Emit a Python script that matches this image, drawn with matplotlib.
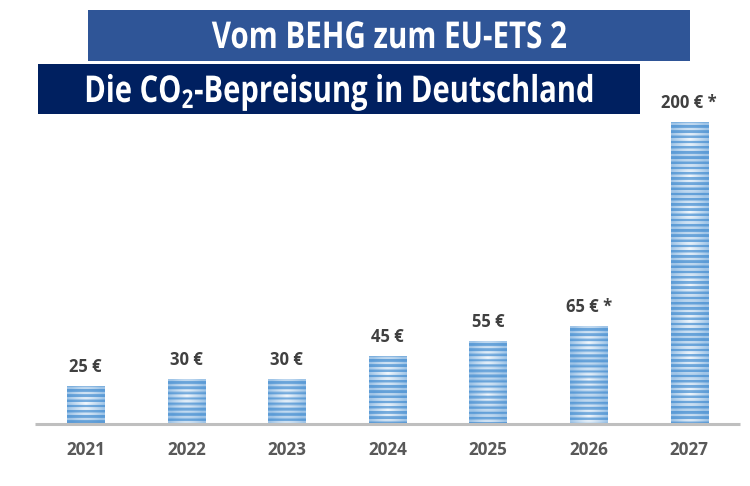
#!/usr/bin/env python
# -*- coding: utf-8 -*-

import numpy as np
import matplotlib
matplotlib.use("Agg")
import matplotlib.pyplot as plt
from matplotlib.patches import Rectangle
from matplotlib.patheffects import AbstractPathEffect
from matplotlib.transforms import Affine2D

# Values
years = ["2021", "2022", "2023", "2024", "2025", "2026", "2027"]
prices = [25, 30, 30, 45, 55, 65, 200]
price_labels = ["25 €", "30 €", "30 €", "45 €", "55 €", "65 € *", "200 € *"]
title_top = "Vom BEHG zum EU-ETS 2"
title_bottom = r"Die CO$_{\mathbf{2}}$-Bepreisung in Deutschland"

W, H = 750.0, 486.0
FONT = "Open Sans"

plt.rcParams["mathtext.fontset"] = "custom"
plt.rcParams["mathtext.bf"] = "Open Sans:bold"
plt.rcParams["mathtext.rm"] = "Open Sans:bold"


class Squeeze(AbstractPathEffect):
    # No condensed font is installed, so narrow the glyphs around a pixel x position
    def __init__(self, center, factor):
        super().__init__()
        self.center = center
        self.factor = factor

    def draw_path(self, renderer, gc, tpath, affine, rgbFace=None):
        squeeze = Affine2D().translate(-self.center, 0).scale(self.factor, 1).translate(self.center, 0)
        renderer.draw_path(gc, tpath, affine + squeeze, rgbFace)


def fig_box(x0, y0, x1, y1):
    # pixel box measured from the top left corner -> figure fraction
    return x0 / W, 1 - y1 / H, (x1 - x0) / W, (y1 - y0) / H


def bar_texture(rows, cols=38, tile=36, period=5.2):
    # Blue and pale bands, with a soft glow repeating up the bar
    y = np.arange(rows)
    bands = np.clip(0.5 + 1.6 * np.sin(2 * np.pi * y / period), 0, 1)
    yy = ((y % tile) + 0.5) / tile * 2 - 1
    xx = np.linspace(-1, 1, cols)
    glow = 1 - np.clip(np.sqrt(xx[None, :] ** 2 + 0.5 * yy[:, None] ** 2), 0, 1)
    amount = bands[:, None] * (0.45 + 0.55 * glow) + (1 - bands[:, None]) * 0.2 * glow
    blue = np.array([0.36, 0.61, 0.84])
    white = np.array([0.95, 0.97, 0.99])
    return blue + (white - blue) * amount[..., None]


fig = plt.figure(figsize=(7.5, 4.86), dpi=100, facecolor="white")
ax = fig.add_axes(fig_box(35.5, 122, 739.5, 424))

bars = ax.bar(range(len(years)), prices, width=0.372, color="#5B9BD5", linewidth=0)
for bar in bars:
    x = bar.get_x()
    rows = int(round(bar.get_height() * 1.51))
    im = ax.imshow(bar_texture(rows), extent=(x, x + bar.get_width(), 0, bar.get_height()),
                   aspect="auto", interpolation="bilinear", zorder=2)
    im.set_clip_path(bar)

ax.set_xlim(-0.5, 6.5)
ax.set_ylim(0, 200)
ax.set_yticks([])
ax.set_xticks(range(len(years)))
ax.set_xticklabels(years, fontfamily=FONT, fontweight="bold", fontsize=12.3, color="#595959")
ax.tick_params(axis="x", length=0, pad=12)
for side in ["top", "left", "right"]:
    ax.spines[side].set_visible(False)
ax.spines["bottom"].set_color("#BFBFBF")
ax.spines["bottom"].set_linewidth(2.2)
ax.spines["bottom"].set_capstyle("butt")

for i, (value, label) in enumerate(zip(prices, price_labels)):
    ax.annotate(label, (i, value), xytext=(0, 13.6), textcoords="offset points",
                ha="center", va="center", fontfamily=FONT, fontweight="bold",
                fontsize=12, color="#404040", annotation_clip=False)

# Title banners
for (x0, y0, x1, y1), color in [((88, 10, 690, 61), "#2F5597"), ((38, 64, 640, 114), "#002060")]:
    left, bottom, width, height = fig_box(x0, y0, x1, y1)
    fig.add_artist(Rectangle((left, bottom), width, height, transform=fig.transFigure,
                             facecolor=color, edgecolor="none"))

fig.text(389 / W, 1 - 48 / H, title_top, ha="center", va="baseline", color="white",
         fontfamily=FONT, fontweight="bold", fontsize=26.6,
         path_effects=[Squeeze(389, 0.80)])
fig.text(338.5 / W, 1 - 102 / H, title_bottom, ha="center", va="baseline", color="white",
         fontfamily=FONT, fontweight="bold", fontsize=26.6,
         path_effects=[Squeeze(338.5, 0.79)])

fig.savefig("out.png", dpi=100)
